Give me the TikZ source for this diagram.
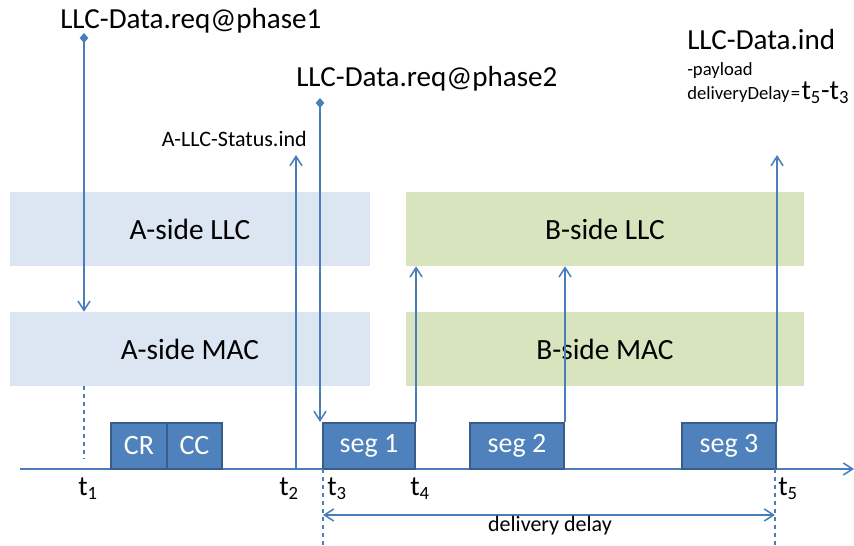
\documentclass[tikz,border=0pt]{standalone}
\usepackage{fontspec}
\setmainfont{Carlito}
\usetikzlibrary{arrows.meta}
\definecolor{lineblue}{HTML}{4A7EBB}
\definecolor{segfill}{HTML}{4F81BD}
\definecolor{segdraw}{HTML}{385D8A}
\definecolor{asidefill}{HTML}{DCE6F2}
\definecolor{bsidefill}{HTML}{D7E4BD}
\newcommand{\tsub}[1]{t$_{\mbox{\fontsize{14}{16}\selectfont #1}}$}
\begin{document}
\begin{tikzpicture}[x=0.75pt,y=-0.75pt,
  bigtxt/.style={font=\fontsize{21.8}{24}\selectfont, inner sep=0pt},
  smalltxt/.style={font=\fontsize{16.5}{19}\selectfont, inner sep=0pt},
  tinytxt/.style={font=\fontsize{14}{17}\selectfont, inner sep=0pt},
  layerbox/.style={draw=none, inner sep=0pt, minimum height=55.5pt, font=\fontsize{22}{24}\selectfont},
  abox/.style={layerbox, fill=asidefill, minimum width=270pt},
  bbox/.style={layerbox, fill=bsidefill, minimum width=298.5pt},
  segbox/.style={draw=segdraw, line width=1.6pt, fill=segfill, text=white, inner sep=0pt,
    minimum height=34.5pt, font=\fontsize{21}{24}\selectfont},
  conn/.style={draw=lineblue, line width=1.15pt},
  arr/.style={conn, -{Straight Barb[length=7pt,width=9pt]}},
  darr/.style={conn, {Diamond[length=7.5pt,width=6.5pt]}-{Straight Barb[length=7pt,width=9pt]}},
  dasharr/.style={conn, dashed},
  tlab/.style={font=\fontsize{21}{24}\selectfont, inner sep=0pt, anchor=base west}
]
\useasboundingbox (0,0) rectangle (854,546);

% layer boxes
\node[abox] (allc) at (190,229) {A-side LLC};
\node[abox] (amac) at (190,349) {A-side MAC};
\node[bbox] (bllc) at (605,229) {B-side LLC};
\node[bbox] (bmac) at (605,349) {B-side MAC};

% time axis
\coordinate (axs) at (20,469);
\coordinate (axe) at (854,469);
\draw[arr] (axs) -- (axe);

% frames on the medium
\node[segbox, minimum width=42pt] (cr) at (139,446) {CR};
\node[segbox, minimum width=41.25pt] (cc) at (194.5,446) {CC};
\node[segbox, minimum width=69pt] (seg1) at (369,446) {seg 1};
\node[segbox, minimum width=70.5pt] (seg2) at (517,446) {seg 2};
\node[segbox, minimum width=70.5pt] (seg3) at (729,446) {seg 3};

% top labels
\node[bigtxt, anchor=base west] (req1) at (60,28) {LLC-Data.req@phase1};
\node[bigtxt, anchor=base west] (req2) at (296,86) {LLC-Data.req@phase2};
\node[smalltxt, anchor=base east] (stat) at (307,146) {A-LLC-Status.ind};
\node[bigtxt, anchor=base west] (ind) at (687,49) {LLC-Data.ind};
\node[tinytxt, anchor=base west] (pay) at (687,75) {-payload};
\node[tinytxt, anchor=base west] (dd) at (687,99) {deliveryDelay\hspace{1pt}=\hspace{1pt}{\fontsize{21}{24}\selectfont \tsub{5}-\tsub{3}}};

% phase 1 request
\coordinate (d1) at (84,33);
\draw[darr] (d1) -- (d1 |- amac.north);
\coordinate (t1top) at (84,386);
\coordinate (t1bot) at (84,459);
\draw[dasharr] (t1top) -- (t1bot);

% status indication
\coordinate (t2a) at (296,469);
\coordinate (t2b) at (296,155);
\draw[arr] (t2a) -- (t2b);

% phase 2 request
\coordinate (d2) at (320,98);
\draw[darr] (d2) -- (d2 |- seg1.north);

% deliveries to B-side LLC
\draw[arr] (seg1.north east) -- (seg1.north east |- bllc.south);
\draw[arr] (seg2.north east) -- (seg2.north east |- bllc.south);
\coordinate (t5b) at (775,155);
\draw[arr] (seg3.north east) -- (seg3.north east |- t5b);

% delay markers
\coordinate (t3a) at (323,469);
\coordinate (t3b) at (323,546);
\coordinate (t5a) at (775,469);
\coordinate (t5c) at (775,546);
\draw[dasharr] (t3a) -- (t3b);
\draw[dasharr] (t5a) -- (t5c);
\coordinate (dl) at (323,515);
\coordinate (dr) at (775,515);
\draw[conn, {Straight Barb[length=7pt,width=9pt]}-{Straight Barb[length=7pt,width=9pt]}] (dl) -- (dr);
\node[smalltxt, anchor=base] (ddl) at (550,531) {delivery delay};

% time labels
\node[tlab] (lt1) at (78,495) {\tsub{1}};
\node[tlab] (lt2) at (279,495) {\tsub{2}};
\node[tlab] (lt3) at (327,495) {\tsub{3}};
\node[tlab] (lt4) at (410,495) {\tsub{4}};
\node[tlab] (lt5) at (778,495) {\tsub{5}};
\end{tikzpicture}
\end{document}
